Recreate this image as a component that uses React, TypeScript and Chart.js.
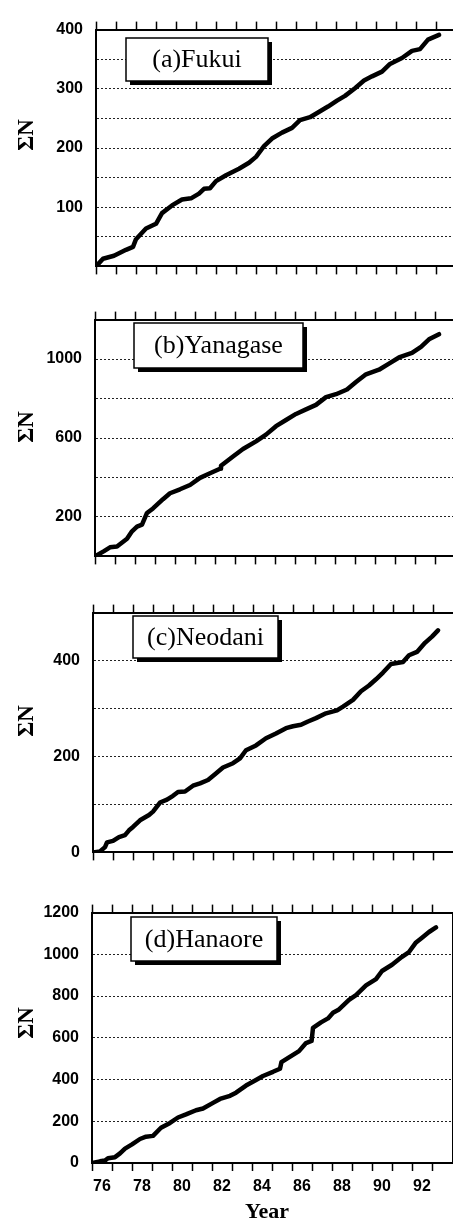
import React, { useEffect, useRef } from 'react';
import { Chart, registerables } from 'chart.js';

Chart.register(...registerables);

// Shared year axis: a tick at every year boundary, labels on even years
const yearTicks = [76, 77, 78, 79, 80, 81, 82, 83, 84, 85, 86, 87, 88, 89, 90, 91, 92, 93];
const yearLabels = [76, 78, 80, 82, 84, 86, 88, 90, 92];

// (a) Fukui — cumulative count
const fukuiYears = [76.0, 76.35, 76.9, 77.5, 77.85, 78.0, 78.5, 79.0, 79.3, 79.8, 80.3, 80.75, 81.15, 81.4, 81.7, 82.0, 82.5, 83.15, 83.65, 84.0, 84.4, 84.8, 85.3, 85.8, 86.2, 86.7, 87.1, 87.6, 88.05, 88.45, 88.95, 89.4, 89.8, 90.3, 90.7, 91.3, 91.8, 92.2, 92.6, 93.15];
const fukuiCounts = [0, 13, 18, 28, 33, 46, 64, 72, 90, 103, 113, 115, 123, 131, 132, 144, 154, 165, 175, 185, 203, 216, 226, 234, 247, 252, 260, 270, 280, 288, 301, 314, 321, 329, 342, 352, 364, 367, 383, 391];
const fukuiGrid = [0, 50, 100, 150, 200, 250, 300, 350, 400];
const fukuiTickLabels = [100, 200, 300, 400];

// (b) Yanagase
const yanagaseYears = [76.0, 76.45, 76.75, 77.1, 77.6, 77.85, 78.1, 78.35, 78.6, 78.9, 79.4, 79.75, 80.25, 80.75, 81.25, 81.75, 82.25, 82.3, 82.9, 83.4, 84.05, 84.55, 85.05, 85.55, 86.05, 86.55, 87.05, 87.55, 88.05, 88.6, 89.05, 89.55, 90.2, 90.7, 91.2, 91.85, 92.3, 92.7, 93.2];
const yanagaseCounts = [0, 27, 46, 50, 89, 127, 151, 161, 220, 243, 290, 320, 340, 362, 398, 421, 444, 459, 506, 544, 583, 617, 660, 691, 722, 745, 768, 807, 822, 846, 884, 923, 946, 977, 1008, 1031, 1062, 1100, 1126];
const yanagaseGrid = [0, 200, 400, 600, 800, 1000, 1200];
const yanagaseTickLabels = [200, 600, 1000];

// (c) Neodani
const neodaniYears = [76.0, 76.35, 76.6, 76.7, 77.0, 77.3, 77.6, 77.8, 78.0, 78.35, 78.8, 79.0, 79.35, 79.7, 80.0, 80.25, 80.6, 81.0, 81.35, 81.75, 82.1, 82.5, 83.0, 83.35, 83.65, 84.15, 84.65, 85.15, 85.65, 86.0, 86.4, 86.75, 87.15, 87.65, 88.2, 88.5, 89.0, 89.4, 89.8, 90.15, 90.5, 90.9, 91.5, 91.8, 92.2, 92.6, 92.95, 93.25];
const neodaniCounts = [0, 2, 11, 21, 24, 32, 36, 46, 53, 67, 78, 85, 104, 110, 118, 126, 127, 139, 144, 151, 163, 177, 186, 196, 213, 223, 238, 248, 259, 263, 266, 273, 280, 290, 296, 304, 318, 336, 348, 361, 375, 393, 397, 411, 418, 437, 450, 463];
const neodaniGrid = [0, 100, 200, 300, 400, 500];
const neodaniTickLabels = [0, 200, 400];

// (d) Hanaore
const hanaoreYears = [76.0, 76.4, 76.65, 76.8, 77.15, 77.4, 77.65, 78.0, 78.4, 78.7, 79.05, 79.45, 79.9, 80.3, 80.7, 81.2, 81.55, 82.05, 82.4, 82.9, 83.2, 83.7, 84.2, 84.55, 85.05, 85.4, 85.47, 85.85, 86.35, 86.7, 86.98, 87.05, 87.45, 87.8, 88.05, 88.35, 88.85, 89.2, 89.7, 90.2, 90.5, 91.0, 91.5, 91.85, 92.2, 92.5, 92.85, 93.2];
const hanaoreCounts = [0, 8, 12, 23, 28, 46, 69, 89, 115, 126, 130, 169, 192, 218, 233, 253, 261, 288, 307, 322, 337, 371, 398, 417, 437, 452, 483, 506, 536, 575, 585, 648, 674, 693, 720, 736, 782, 805, 851, 881, 920, 950, 988, 1011, 1057, 1080, 1107, 1129];
const hanaoreGrid = [0, 200, 400, 600, 800, 1000, 1200];
const hanaoreTickLabels = [0, 200, 400, 600, 800, 1000, 1200];

const panelTitles = ['(a)Fukui', '(b)Yanagase', '(c)Neodani', '(d)Hanaore'];

const PAGE_W = 453;
const PAGE_H = 1226;
const TICK_LEN = 8;
const SANS = '"Liberation Sans", Arial, sans-serif';
const SERIF = '"Liberation Serif", "Times New Roman", serif';

type PanelSpec = {
  title: string;
  years: number[];
  counts: number[];
  grid: number[];
  tickLabels: number[];
  showYears: boolean;
  // page-space geometry of the plot frame and its label box
  left: number;
  top: number;
  bottom: number;
  box: [number, number, number, number];
  sigmaY: number;
};

const panels: PanelSpec[] = [
  { title: panelTitles[0], years: fukuiYears, counts: fukuiCounts, grid: fukuiGrid, tickLabels: fukuiTickLabels, showYears: false,
    left: 96, top: 19, bottom: 277, box: [126, 38, 142, 43], sigmaY: 135 },
  { title: panelTitles[1], years: yanagaseYears, counts: yanagaseCounts, grid: yanagaseGrid, tickLabels: yanagaseTickLabels, showYears: false,
    left: 95, top: 309, bottom: 567, box: [134, 323, 169, 45], sigmaY: 427 },
  { title: panelTitles[2], years: neodaniYears, counts: neodaniCounts, grid: neodaniGrid, tickLabels: neodaniTickLabels, showYears: false,
    left: 93, top: 602, bottom: 863, box: [133, 616, 145, 42], sigmaY: 721 },
  { title: panelTitles[3], years: hanaoreYears, counts: hanaoreCounts, grid: hanaoreGrid, tickLabels: hanaoreTickLabels, showYears: true,
    left: 92, top: 902, bottom: 1163, box: [131, 917, 146, 44], sigmaY: 1023 },
];

function Panel({ spec }: { spec: PanelSpec }) {
  const ref = useRef<HTMLCanvasElement | null>(null);
  const canvasTop = spec.top - 12;
  const canvasH = spec.showYears ? PAGE_H - canvasTop : spec.bottom - spec.top + 24;
  const canvasW = spec.left + 362;
  const bottomAxisH = canvasH - (spec.bottom - spec.top) - 12;

  useEffect(() => {
    if (!ref.current) return;

    const decor = {
      id: 'panelDecor',
      afterDraw(chart: Chart) {
        const ctx = chart.ctx;
        ctx.save();
        // rotated axis title
        ctx.translate(27, spec.sigmaY - canvasTop);
        ctx.rotate(-Math.PI / 2);
        ctx.fillStyle = '#000';
        ctx.font = `bold 23px ${SERIF}`;
        ctx.textAlign = 'center';
        ctx.textBaseline = 'middle';
        ctx.fillText('ΣN', 0, 0);
        ctx.restore();

        // station label box with drop shadow
        const [bx, byPage, bw, bh] = spec.box;
        const by = byPage - canvasTop;
        ctx.save();
        ctx.fillStyle = '#000';
        ctx.fillRect(bx + 4, by + 4, bw, bh);
        ctx.fillStyle = '#fff';
        ctx.fillRect(bx, by, bw, bh);
        ctx.strokeStyle = '#000';
        ctx.lineWidth = 1.5;
        ctx.strokeRect(bx, by, bw, bh);
        ctx.fillStyle = '#000';
        ctx.font = `26px ${SERIF}`;
        ctx.textAlign = 'center';
        ctx.textBaseline = 'middle';
        ctx.fillText(spec.title, bx + bw / 2, by + bh / 2 + 1);
        if (spec.showYears) {
          ctx.font = `bold 22px ${SERIF}`;
          ctx.textBaseline = 'alphabetic';
          ctx.fillText('Year', 267, 1218 - canvasTop);
        }
        ctx.restore();
      },
    };

    const xCommon = (position: 'top' | 'bottom', labels: boolean, height: number) => ({
      type: 'linear' as const,
      position,
      min: 76,
      max: 94,
      afterBuildTicks: (axis: any) => {
        axis.ticks = yearTicks.map((v) => ({ value: v }));
      },
      afterFit: (axis: any) => {
        axis.height = height;
      },
      grid: {
        drawOnChartArea: false,
        drawTicks: true,
        tickLength: TICK_LEN,
        tickWidth: 1.5,
        tickColor: '#000',
      },
      border: { display: true, color: '#000', width: 2 },
      ticks: {
        display: labels,
        autoSkip: false,
        maxRotation: 0,
        labelOffset: 10,
        padding: 6,
        color: '#000',
        font: { family: SANS, size: 16, weight: 'bold' as const },
        callback: (v: any) => (yearLabels.includes(Number(v)) ? String(v) : ''),
      },
    });

    const chart = new Chart(ref.current, {
      type: 'line',
      data: {
        datasets: [
          {
            data: spec.years.map((x, i) => ({ x, y: spec.counts[i] })),
            borderColor: '#000',
            borderWidth: 4.5,
            pointRadius: 0,
            tension: 0,
            borderJoinStyle: 'round',
            borderCapStyle: 'round',
            fill: false,
          },
        ],
      },
      options: {
        animation: false,
        responsive: false,
        maintainAspectRatio: false,
        layout: { padding: { top: 4, left: 0, right: 2, bottom: 0 } },
        plugins: {
          legend: { display: false },
          tooltip: { enabled: false },
        },
        scales: {
          x: xCommon('bottom', spec.showYears, bottomAxisH),
          xTop: xCommon('top', false, TICK_LEN),
          y: {
            type: 'linear',
            position: 'left',
            min: 0,
            max: spec.grid[spec.grid.length - 1],
            afterBuildTicks: (axis: any) => {
              axis.ticks = spec.grid.map((v) => ({ value: v }));
            },
            afterFit: (axis: any) => {
              axis.width = spec.left;
            },
            grid: { drawTicks: false, color: '#222', lineWidth: 1 },
            border: { display: true, color: '#000', width: 2, dash: [2, 2] },
            ticks: {
              padding: 13,
              color: '#000',
              font: { family: SANS, size: 16, weight: 'bold' },
              callback: (v: any) => (spec.tickLabels.includes(Number(v)) ? String(v) : ''),
            },
          },
          yRight: {
            type: 'linear',
            position: 'right',
            min: 0,
            max: spec.grid[spec.grid.length - 1],
            afterFit: (axis: any) => {
              axis.width = 0;
            },
            grid: { drawOnChartArea: false, drawTicks: false },
            border: { display: true, color: '#000', width: 1 },
            ticks: { display: false },
          },
        },
      },
      plugins: [decor],
    });
    return () => chart.destroy();
  }, [spec]);

  return (
    <div style={{ position: 'absolute', left: 0, top: canvasTop, width: canvasW, height: canvasH }}>
      <canvas ref={ref} width={canvasW} height={canvasH} style={{ width: canvasW, height: canvasH, display: 'block' }} />
    </div>
  );
}

export default function App() {
  return (
    <div
      style={{
        position: 'absolute',
        left: 0,
        top: 0,
        width: PAGE_W,
        height: PAGE_H,
        overflow: 'hidden',
        background: '#fff',
      }}
    >
      {panels.map((p) => (
        <Panel key={p.title} spec={p} />
      ))}
    </div>
  );
}
